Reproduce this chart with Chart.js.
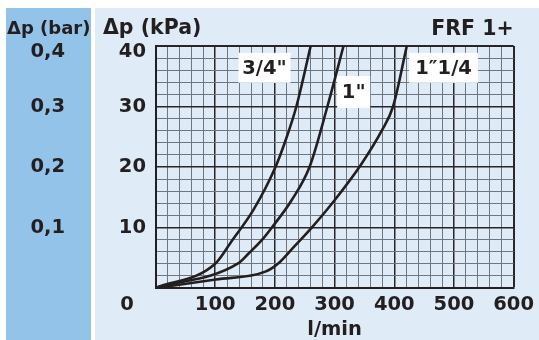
<!DOCTYPE html>
<html>
<head>
<meta charset="utf-8">
<script src="https://cdn.jsdelivr.net/npm/chart.js@4"></script>
<style>
  html, body { margin: 0; padding: 0; background: #ffffff; }
  #wrap { width: 539px; height: 340px; position: relative; }
</style>
</head>
<body>
<div id="wrap"><canvas id="c" width="539" height="340"></canvas></div>
<script>
// Flow rate (l/min) against pressure drop (kPa) for the three connection sizes
const flow34 = [0, 100, 128, 164, 201, 220, 236, 260];
const dp34   = [0, 4.0, 7.8, 12.9, 20, 25, 30, 40];

const flow1 = [0, 139, 156, 178, 195, 228, 258, 288, 315];
const dp1   = [0, 4.1, 5.7, 7.9, 10, 14.5, 20, 30, 40];

const flow114 = [0, 101, 184, 206, 230, 261, 300, 345, 379, 398, 421];
const dp114   = [0, 1.4, 2.7, 4.1, 6.6, 9.9, 14.5, 20.5, 26, 30, 40];

const seriesNames = ['3/4"', '1"', '1\u20331/4'];

// Axis ticks
const flowTicks = [100, 200, 300, 400, 500, 600];
const kPaTicks  = [10, 20, 30, 40];
const barTicks  = [0.1, 0.2, 0.3, 0.4];
const barTickLabels = ['0,1', '0,2', '0,3', '0,4'];

const INK = '#231f20';
const GRID_MINOR = '#6e7682';
const GRID_MAJOR = '#2a2627';
const FONT = 'DejaVu Sans';

Chart.defaults.font.family = FONT;
Chart.defaults.font.weight = 'bold';
Chart.defaults.font.size = 19.5;
Chart.defaults.color = INK;

const toPoints = (xs, ys) => xs.map((x, i) => ({ x: x, y: ys[i] }));

// The topmost labels sit a little below their grid line: they are drawn as the
// second line of a two-line label whose line height sets the drop.
const TOP_DROP_LINE_HEIGHT = 12 / 19.5;
const dropTop = (label, isTop) => isTop ? ['', label] : label;
const tickFont = isTop => ({ size: 19.5, weight: 'bold', family: FONT, lineHeight: isTop ? TOP_DROP_LINE_HEIGHT : 1.2 });

// Background panels, headings and the shared origin label
const panels = {
  id: 'panels',
  beforeDraw(chart) {
    const c = chart.ctx;
    c.save();
    c.fillStyle = '#ffffff';
    c.fillRect(0, 0, chart.width, chart.height);
    c.fillStyle = '#93c3e8';
    c.fillRect(6, 8, 85, chart.height - 8);
    c.fillStyle = '#dfebf7';
    c.fillRect(95, 8, chart.width - 95, chart.height - 8);
    c.restore();
  },
  afterDraw(chart) {
    const c = chart.ctx;
    const a = chart.chartArea;
    c.save();
    c.fillStyle = INK;
    c.textBaseline = 'alphabetic';
    c.textAlign = 'left';
    c.font = 'bold 18px "' + FONT + '"';
    c.fillText('\u0394p (bar)', 7, 34);
    c.font = 'bold 20.5px "' + FONT + '"';
    c.fillText('\u0394p (kPa)', 103, 34);
    c.textAlign = 'right';
    c.font = 'bold 20.5px "' + FONT + '"';
    c.fillText('FRF 1+', a.right, 35);
    c.textAlign = 'center';
    c.textBaseline = 'middle';
    c.font = 'bold 19.5px "' + FONT + '"';
    c.fillText('0', a.left - 28.5, a.bottom + 17);
    c.restore();
  }
};

// White tag boxes naming each curve
const curveTags = {
  id: 'curveTags',
  afterDatasetsDraw(chart) {
    const c = chart.ctx;
    const xs = chart.scales.x, ys = chart.scales.y;
    const tags = [
      { text: seriesNames[0], x: 182.6, y: 36.4, w: 52, h: 30 },
      { text: seriesNames[1], x: 332, y: 32.4, w: 33, h: 32 },
      { text: seriesNames[2], x: 482.6, y: 36.4, w: 69, h: 30 }
    ];
    c.save();
    c.font = 'bold 19.5px "' + FONT + '"';
    c.textAlign = 'center';
    c.textBaseline = 'middle';
    tags.forEach(t => {
      const px = xs.getPixelForValue(t.x);
      const py = ys.getPixelForValue(t.y);
      c.fillStyle = '#ffffff';
      c.fillRect(px - t.w / 2, py - t.h / 2, t.w, t.h);
      c.fillStyle = INK;
      c.fillText(t.text, px, py + 1);
    });
    c.restore();
  }
};

const lineStyle = {
  borderColor: INK,
  borderWidth: 2.6,
  pointRadius: 0,
  fill: false,
  cubicInterpolationMode: 'monotone'
};

new Chart(document.getElementById('c'), {
  type: 'line',
  data: {
    datasets: [
      Object.assign({ label: seriesNames[0], data: toPoints(flow34, dp34) }, lineStyle),
      Object.assign({ label: seriesNames[1], data: toPoints(flow1, dp1) }, lineStyle),
      Object.assign({ label: seriesNames[2], data: toPoints(flow114, dp114) }, lineStyle)
    ]
  },
  options: {
    responsive: false,
    animation: false,
    layout: { padding: { top: 46, right: 21, bottom: 0, left: 0 } },
    plugins: { legend: { display: false }, tooltip: { enabled: false } },
    scales: {
      x: {
        type: 'linear',
        min: 0, max: 600,
        afterFit(s) { s.height = 52; },
        ticks: {
          stepSize: 20,
          autoSkip: false,
          maxRotation: 0,
          padding: 5,
          callback: v => flowTicks.includes(v) ? String(v) : ''
        },
        grid: {
          drawTicks: false,
          color: ctx => (ctx.tick.value % 100 === 0) ? GRID_MAJOR : GRID_MINOR,
          lineWidth: ctx => ctx.tick.value === 600 ? 2 : (ctx.tick.value % 100 === 0 ? 1.5 : 1)
        },
        border: { color: INK, width: 2 },
        title: {
          display: true,
          text: 'l/min',
          font: { size: 19.5, weight: 'bold', lineHeight: 1 },
          padding: { top: 0, bottom: 0 }
        }
      },
      y: {
        type: 'linear',
        position: 'left',
        weight: 0,
        min: 0, max: 40,
        afterFit(s) { s.width = 60.5; },
        ticks: {
          stepSize: 2,
          autoSkip: false,
          padding: 9.5,
          font: ctx => tickFont(ctx.tick && ctx.tick.value === 40),
          callback: v => kPaTicks.includes(v) ? dropTop(String(v), v === 40) : ''
        },
        grid: {
          drawTicks: false,
          color: ctx => (ctx.tick.value % 10 === 0) ? GRID_MAJOR : GRID_MINOR,
          lineWidth: ctx => ctx.tick.value === 40 ? 2 : (ctx.tick.value % 10 === 0 ? 1.5 : 1)
        },
        border: { color: INK, width: 2 }
      },
      bar: {
        type: 'linear',
        position: 'left',
        weight: 1,
        min: 0, max: 0.4,
        afterFit(s) { s.width = 95; },
        ticks: {
          stepSize: 0.1,
          autoSkip: false,
          crossAlign: 'center',
          padding: 30,
          font: ctx => tickFont(ctx.tick && Math.abs(ctx.tick.value - 0.4) < 1e-9),
          callback: v => {
            const i = barTicks.findIndex(b => Math.abs(b - v) < 1e-9);
            if (i < 0) return '';
            return dropTop(barTickLabels[i], i === barTicks.length - 1);
          }
        },
        grid: { display: false, drawTicks: false },
        border: { display: false }
      }
    }
  },
  plugins: [panels, curveTags]
});
</script>
</body>
</html>
